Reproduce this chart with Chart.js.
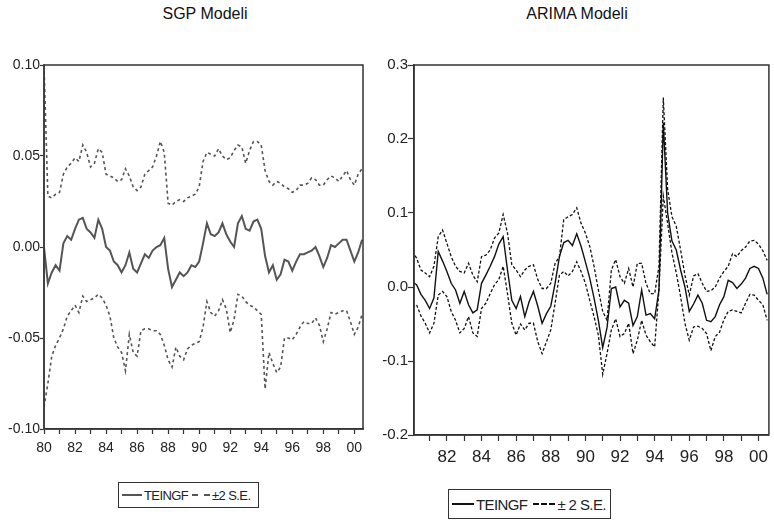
<!DOCTYPE html>
<html>
<head>
<meta charset="utf-8">
<script src="https://cdn.jsdelivr.net/npm/chart.js@4.4.1/dist/chart.umd.min.js"></script>
<style>
  html, body { margin:0; padding:0; background:#fff; }
  body { width:774px; height:526px; position:relative; overflow:hidden; font-family:"Liberation Sans", Arial, sans-serif; }
  .title { position:absolute; top:5px; font-size:16px; color:#111; text-align:center; }
  canvas { position:absolute; }
  .legend { position:absolute; border:1.5px solid #333; box-sizing:border-box; font-family:"Liberation Sans", Arial, sans-serif; color:#222; white-space:nowrap; display:flex; align-items:center; overflow:visible; letter-spacing:-0.6px; }
  .legend .seg { display:inline-block; height:0; margin:0 2px 0 3px; }
</style>
</head>
<body>
<div class="title" style="left:125px;width:160px;">SGP Modeli</div>
<div class="title" style="left:497px;width:160px;">ARIMA Modeli</div>
<canvas id="left" width="375" height="420" style="left:0;top:40px;"></canvas>
<canvas id="right" width="399" height="430" style="left:375px;top:40px;"></canvas>

<div class="legend" style="left:118px;top:482px;width:141px;height:26px;font-size:13px;">
  <span class="seg" style="width:20px;border-top:2px solid #555;"></span><span>TEINGF</span>
  <span class="seg" style="width:18px;border-top:2px dashed #555;margin-left:4px;"></span><span>±2 S.E.</span>
</div>
<div class="legend" style="left:448px;top:489px;width:163px;height:30px;font-size:15px;">
  <span class="seg" style="width:22px;border-top:2px solid #111;"></span><span>TEINGF</span>
  <span class="seg" style="width:22px;border-top:2px dashed #111;margin-left:6px;"></span><span>± 2 S.E.</span>
</div>

<script>
// Quarterly observations 1980Q1 .. 2000Q3
const startYear = 1980;
const quarterCount = 83;
const quarters = Array.from({length: quarterCount}, (_, i) => (startYear + Math.floor(i / 4)) + 'Q' + (i % 4 + 1));

// SGP model (left panel)
const sgpTeingf = [
  0.000,-0.020,-0.014,-0.010,-0.013, 0.002, 0.006, 0.004, 0.010, 0.015,
  0.016, 0.010, 0.008, 0.005, 0.015, 0.010, 0.000,-0.002,-0.008,-0.010,
 -0.014,-0.010,-0.003,-0.012,-0.014,-0.009,-0.004,-0.006,-0.002, 0.000,
  0.001, 0.005,-0.012,-0.022,-0.018,-0.014,-0.016,-0.014,-0.010,-0.011,
 -0.008, 0.002, 0.013, 0.007, 0.006, 0.008, 0.013, 0.007, 0.003, 0.000,
  0.013, 0.017, 0.010, 0.009, 0.014, 0.015, 0.010,-0.005,-0.014,-0.010,
 -0.018,-0.015,-0.007,-0.008,-0.013,-0.008,-0.004,-0.004,-0.003,-0.002,
  0.000,-0.005,-0.011,-0.006, 0.001, 0.000, 0.002, 0.004, 0.004,-0.002,
 -0.008,-0.003, 0.004
];
const sgpUpper = [
  0.100, 0.028, 0.027, 0.029, 0.030, 0.040, 0.044, 0.046, 0.049, 0.047,
  0.056, 0.052, 0.044, 0.046, 0.054, 0.052, 0.040, 0.039, 0.038, 0.036,
  0.037, 0.043, 0.039, 0.033, 0.031, 0.033, 0.040, 0.042, 0.044, 0.050,
  0.058, 0.052, 0.024, 0.023, 0.025, 0.026, 0.025, 0.027, 0.028, 0.029,
  0.033, 0.047, 0.052, 0.051, 0.050, 0.054, 0.050, 0.048, 0.049, 0.053,
  0.056, 0.055, 0.046, 0.053, 0.058, 0.058, 0.056, 0.042, 0.036, 0.034,
  0.036, 0.035, 0.033, 0.032, 0.030, 0.031, 0.034, 0.034, 0.035, 0.038,
  0.037, 0.034, 0.034, 0.037, 0.039, 0.038, 0.036, 0.039, 0.042, 0.037,
  0.034, 0.040, 0.043
];
const sgpLower = [
 -0.088,-0.075,-0.060,-0.054,-0.050,-0.045,-0.038,-0.035,-0.032,-0.036,
 -0.027,-0.030,-0.029,-0.028,-0.026,-0.028,-0.032,-0.038,-0.050,-0.055,
 -0.058,-0.068,-0.048,-0.058,-0.060,-0.046,-0.045,-0.045,-0.046,-0.046,
 -0.048,-0.054,-0.062,-0.066,-0.055,-0.060,-0.062,-0.056,-0.054,-0.053,
 -0.052,-0.044,-0.030,-0.036,-0.038,-0.035,-0.029,-0.034,-0.047,-0.040,
 -0.026,-0.027,-0.030,-0.032,-0.033,-0.035,-0.037,-0.078,-0.058,-0.064,
 -0.069,-0.066,-0.050,-0.050,-0.051,-0.048,-0.044,-0.041,-0.042,-0.042,
 -0.039,-0.043,-0.052,-0.045,-0.036,-0.037,-0.036,-0.035,-0.035,-0.041,
 -0.048,-0.044,-0.037
];

// ARIMA model (right panel)
const arimaTeingf = [
  0.007, 0.003,-0.010,-0.018,-0.029,-0.015, 0.048, 0.035, 0.021, 0.005,
 -0.004,-0.022,-0.006,-0.024,-0.035,-0.031, 0.005, 0.016, 0.028, 0.041,
  0.058, 0.068, 0.023,-0.018,-0.029,-0.013,-0.040,-0.020,-0.006,-0.026,
 -0.049,-0.036,-0.026, 0.005, 0.041, 0.060, 0.063, 0.056, 0.072, 0.055,
  0.034, 0.012,-0.015,-0.045,-0.082,-0.055,-0.002, 0.000,-0.027,-0.018,
 -0.022,-0.052,-0.040,-0.004,-0.038,-0.036,-0.043,-0.004, 0.222, 0.100,
  0.062, 0.050, 0.023, 0.000,-0.033,-0.023,-0.011,-0.022,-0.045,-0.047,
 -0.040,-0.024,-0.013, 0.009, 0.006,-0.002, 0.004, 0.012, 0.025, 0.028,
  0.025, 0.012,-0.010
];
const arimaUpper = [
  0.048, 0.039, 0.023, 0.019, 0.014, 0.028, 0.068, 0.077, 0.059, 0.041,
  0.028, 0.021, 0.019, 0.032, 0.016, 0.007, 0.041, 0.043, 0.050, 0.066,
  0.073, 0.098, 0.073, 0.030, 0.023, 0.014, 0.023, 0.028, 0.030, 0.010,
 -0.002,-0.002, 0.005, 0.032, 0.041, 0.091, 0.095, 0.098, 0.107, 0.086,
  0.073, 0.055, 0.028,-0.004,-0.033,-0.045, 0.023, 0.037, 0.014, 0.005,
  0.025, 0.000, 0.032, 0.032, 0.005,-0.009,-0.009, 0.028, 0.256, 0.132,
  0.095, 0.082, 0.050, 0.016,-0.011, 0.015, 0.018, 0.005,-0.006,-0.005,
  0.000, 0.012, 0.021, 0.028, 0.045, 0.041, 0.049, 0.054, 0.062, 0.063,
  0.058, 0.049, 0.036
];
const arimaLower = [
 -0.027,-0.024,-0.039,-0.049,-0.062,-0.049,-0.011,-0.006,-0.013,-0.033,
 -0.045,-0.062,-0.056,-0.040,-0.062,-0.067,-0.029,-0.022,-0.009, 0.003,
  0.010, 0.028,-0.009,-0.049,-0.065,-0.050,-0.058,-0.049,-0.049,-0.074,
 -0.090,-0.074,-0.058,-0.022, 0.016, 0.021, 0.015, 0.021, 0.034, 0.021,
  0.005,-0.018,-0.040,-0.065,-0.118,-0.090,-0.058,-0.043,-0.067,-0.063,
 -0.049,-0.090,-0.072,-0.045,-0.065,-0.074,-0.081,-0.004, 0.123, 0.086,
  0.046, 0.019,-0.013,-0.049,-0.072,-0.054,-0.053,-0.056,-0.063,-0.086,
 -0.067,-0.061,-0.044,-0.033,-0.031,-0.033,-0.035,-0.022,-0.010,-0.011,
 -0.018,-0.024,-0.045
];

// Axis tick values
const sgpYTicks = [-0.10, -0.05, 0.00, 0.05, 0.10];
const arimaYTicks = [-0.2, -0.1, 0.0, 0.1, 0.2, 0.3];

function qToYear(q) { const [y, n] = q.split('Q'); return +y + (+n - 1) / 4; }
function series(vals) { return vals.map((v, i) => ({ x: qToYear(quarters[i]), y: v })); }

const tickFont = "'Liberation Sans', Arial, sans-serif";

const framePlugin = {
  id: 'frame',
  afterDatasetsDraw(chart, args, opts) {
    const { ctx, chartArea: a } = chart;
    ctx.save();
    ctx.strokeStyle = opts.color;
    ctx.lineWidth = opts.width;
    ctx.strokeRect(a.left, a.top, a.right - a.left, a.bottom - a.top);
    ctx.restore();
  }
};

function makeChart(id, cfg) {
  const ds = (vals, color, width, dash) => ({
    data: series(vals), borderColor: color, borderWidth: width, borderDash: dash,
    pointRadius: 0, tension: 0, fill: false
  });
  return new Chart(document.getElementById(id), {
    type: 'line',
    data: { datasets: [
      ds(cfg.fit, cfg.color, cfg.fitWidth, []),
      ds(cfg.upper, cfg.color, cfg.bandWidth, cfg.dash),
      ds(cfg.lower, cfg.color, cfg.bandWidth, cfg.dash)
    ]},
    options: {
      responsive: false, devicePixelRatio: 1, animation: false,
      layout: { padding: cfg.padding },
      plugins: { legend: { display: false }, tooltip: { enabled: false }, frame: { color: cfg.frameColor, width: 1.5 } },
      scales: {
        x: {
          type: 'linear', min: cfg.xMin, max: cfg.xMax,
          afterFit: s => { s.height = cfg.xHeight; },
          grid: { display: true, drawOnChartArea: false, drawTicks: true, tickLength: cfg.xTickLen, tickColor: '#333', tickWidth: 1.2 },
          border: { display: true, color: cfg.frameColor, width: 1.5 },
          ticks: {
            stepSize: 1, autoSkip: false, maxRotation: 0, includeBounds: false, padding: cfg.xPad,
            color: '#222', font: { family: tickFont, size: cfg.xFont },
            callback: v => (Math.round(v) % 2 === 0) ? String(Math.round(v) % 100).padStart(2, '0') : ''
          }
        },
        y: {
          type: 'linear', min: cfg.yTicks[0], max: cfg.yTicks[cfg.yTicks.length - 1],
          afterFit: s => { s.width = cfg.yWidth; },
          afterBuildTicks: s => { s.ticks = cfg.yTicks.map(v => ({ value: v })); },
          grid: { display: true, drawOnChartArea: false, drawTicks: true, tickLength: cfg.yTickLen, tickColor: '#333', tickWidth: 1.2 },
          border: { display: true, color: cfg.yAxisColor, width: cfg.yAxisWidth },
          ticks: {
            padding: 0, color: '#222', font: { family: tickFont, size: cfg.yFont },
            callback: v => v.toFixed(cfg.decimals)
          }
        }
      }
    },
    plugins: [framePlugin]
  });
}

makeChart('left', {
  fit: sgpTeingf, upper: sgpUpper, lower: sgpLower,
  color: '#555', fitWidth: 2, bandWidth: 1.6, dash: [3, 3],
  frameColor: '#333', yAxisColor: '#777', yAxisWidth: 2,
  padding: { top: 25, right: 12, left: 0, bottom: 0 },
  xMin: 1980, xMax: 2000.56, xHeight: 31, xTickLen: 5, xFont: 14, xPad: 6,
  yTicks: sgpYTicks, yWidth: 44, yTickLen: 4, yFont: 14, decimals: 2
});

makeChart('right', {
  fit: arimaTeingf, upper: arimaUpper, lower: arimaLower,
  color: '#111', fitWidth: 1.4, bandWidth: 1.3, dash: [3, 2],
  frameColor: '#333', yAxisColor: '#333', yAxisWidth: 1.5,
  padding: { top: 25, right: 1, left: 0, bottom: 0 },
  xMin: 1980.1, xMax: 2000.6, xHeight: 35, xTickLen: 6, xFont: 17, xPad: 6,
  yTicks: arimaYTicks, yWidth: 39, yTickLen: 6, yFont: 15, decimals: 1
});
</script>
</body>
</html>
